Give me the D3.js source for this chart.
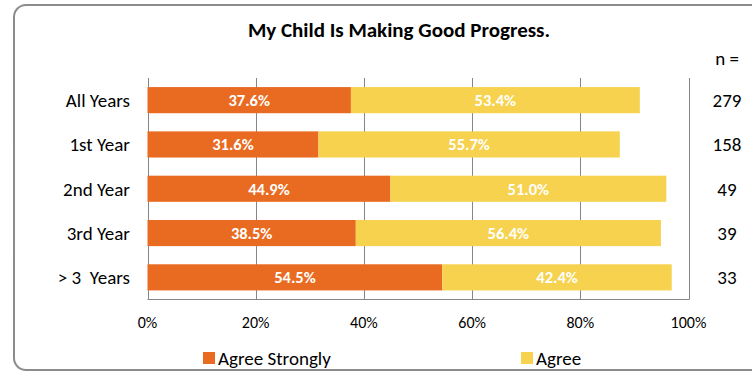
<!DOCTYPE html>
<html>
<head>
<meta charset="utf-8">
<script src="https://cdn.jsdelivr.net/npm/d3@7"></script>
<style>
  html, body { margin: 0; padding: 0; background: #fff; }
  svg { display: block; font-family: Carlito, Lato, "Liberation Sans", sans-serif; }
</style>
</head>
<body>
<svg id="chart" width="752" height="372"></svg>
<script>
// Survey responses by year in program
const categories = ["All Years", "1st Year", "2nd Year", "3rd Year", "> 3  Years"];
const agreeStrongly = [37.6, 31.6, 44.9, 38.5, 54.5];
const agree = [53.4, 55.7, 51.0, 56.4, 42.4];
const counts = [279, 158, 49, 39, 33];
const tickValues = [0, 20, 40, 60, 80, 100];
const seriesNames = ["Agree Strongly", "Agree"];
const seriesColors = ["#E96B22", "#F6D24E"];

const svg = d3.select("#chart");

// Outer rounded frame
svg.append("rect")
  .attr("x", 14).attr("y", 5)
  .attr("width", 760).attr("height", 365)
  .attr("rx", 12).attr("ry", 12)
  .attr("fill", "#fff")
  .attr("stroke", "#8c8c8c")
  .attr("stroke-width", 2);

const x = d3.scaleLinear().domain([0, 100]).range([147.5, 688.5]);
const y = d3.scaleBand().domain(categories).range([78, 299.5])
  .paddingInner(0.41).paddingOuter(0.205);

// Title
svg.append("text")
  .attr("x", 399).attr("y", 37)
  .attr("text-anchor", "middle")
  .attr("font-size", 21).attr("font-weight", "bold")
  .attr("fill", "#000")
  .text("My Child Is Making Good Progress.");

// Vertical gridlines
svg.append("g")
  .selectAll("line")
  .data(tickValues)
  .join("line")
  .attr("x1", d => Math.round(x(d)) + 0.5).attr("x2", d => Math.round(x(d)) + 0.5)
  .attr("y1", 78).attr("y2", 299.5)
  .attr("stroke", "#868686").attr("stroke-width", 1);

// Bottom baseline
svg.append("line")
  .attr("x1", x(0)).attr("x2", x(100) + 1)
  .attr("y1", 299.5).attr("y2", 299.5)
  .attr("stroke", "#868686");

// Stacked bars
const rows = categories.map((c, i) => ({ cat: c, vals: [agreeStrongly[i], agree[i]] }));
const segs = [];
rows.forEach(r => {
  let acc = 0;
  r.vals.forEach((v, k) => {
    segs.push({ cat: r.cat, k, v, x0: acc, x1: acc + v });
    acc += v;
  });
});

svg.append("g")
  .selectAll("rect")
  .data(segs)
  .join("rect")
  .attr("x", d => x(d.x0))
  .attr("y", d => y(d.cat))
  .attr("width", d => x(d.x1) - x(d.x0))
  .attr("height", y.bandwidth())
  .attr("fill", d => seriesColors[d.k]);

// Value labels
svg.append("g")
  .selectAll("text")
  .data(segs)
  .join("text")
  .attr("x", d => (x(d.x0) + x(d.x1)) / 2)
  .attr("y", d => y(d.cat) + y.bandwidth() / 2)
  .attr("dy", "0.36em")
  .attr("text-anchor", "middle")
  .attr("font-size", 16.5).attr("font-weight", "bold")
  .attr("fill", "#fff")
  .text(d => d.v.toFixed(1) + "%");

// Category labels
svg.append("g")
  .selectAll("text")
  .data(categories)
  .join("text")
  .attr("x", 130)
  .attr("y", d => y(d) + y.bandwidth() / 2)
  .attr("dy", "0.36em")
  .attr("text-anchor", "end")
  .attr("font-size", 19)
  .attr("fill", "#000")
  .style("white-space", "pre")
  .text(d => d);

// X tick labels
svg.append("g")
  .selectAll("text")
  .data(tickValues)
  .join("text")
  .attr("x", d => x(d))
  .attr("y", 322)
  .attr("dy", "0.36em")
  .attr("text-anchor", "middle")
  .attr("font-size", 16)
  .attr("fill", "#000")
  .text(d => d + "%");

// Sample sizes
svg.append("text")
  .attr("x", 727).attr("y", 58)
  .attr("dy", "0.36em")
  .attr("text-anchor", "middle")
  .attr("font-size", 19)
  .text("n =");

svg.append("g")
  .selectAll("text")
  .data(counts)
  .join("text")
  .attr("x", 727)
  .attr("y", (d, i) => y(categories[i]) + y.bandwidth() / 2)
  .attr("dy", "0.36em")
  .attr("text-anchor", "middle")
  .attr("font-size", 19)
  .text(d => d);

// Legend
const legendX = [203, 521];
const lg = svg.append("g")
  .selectAll("g")
  .data(seriesNames)
  .join("g")
  .attr("transform", (d, i) => `translate(${legendX[i]},352)`);
lg.append("rect")
  .attr("width", 12).attr("height", 12)
  .attr("fill", (d, i) => seriesColors[i]);
lg.append("text")
  .attr("x", 15).attr("y", 6)
  .attr("dy", "0.36em")
  .attr("font-size", 19)
  .text(d => d);
</script>
</body>
</html>
